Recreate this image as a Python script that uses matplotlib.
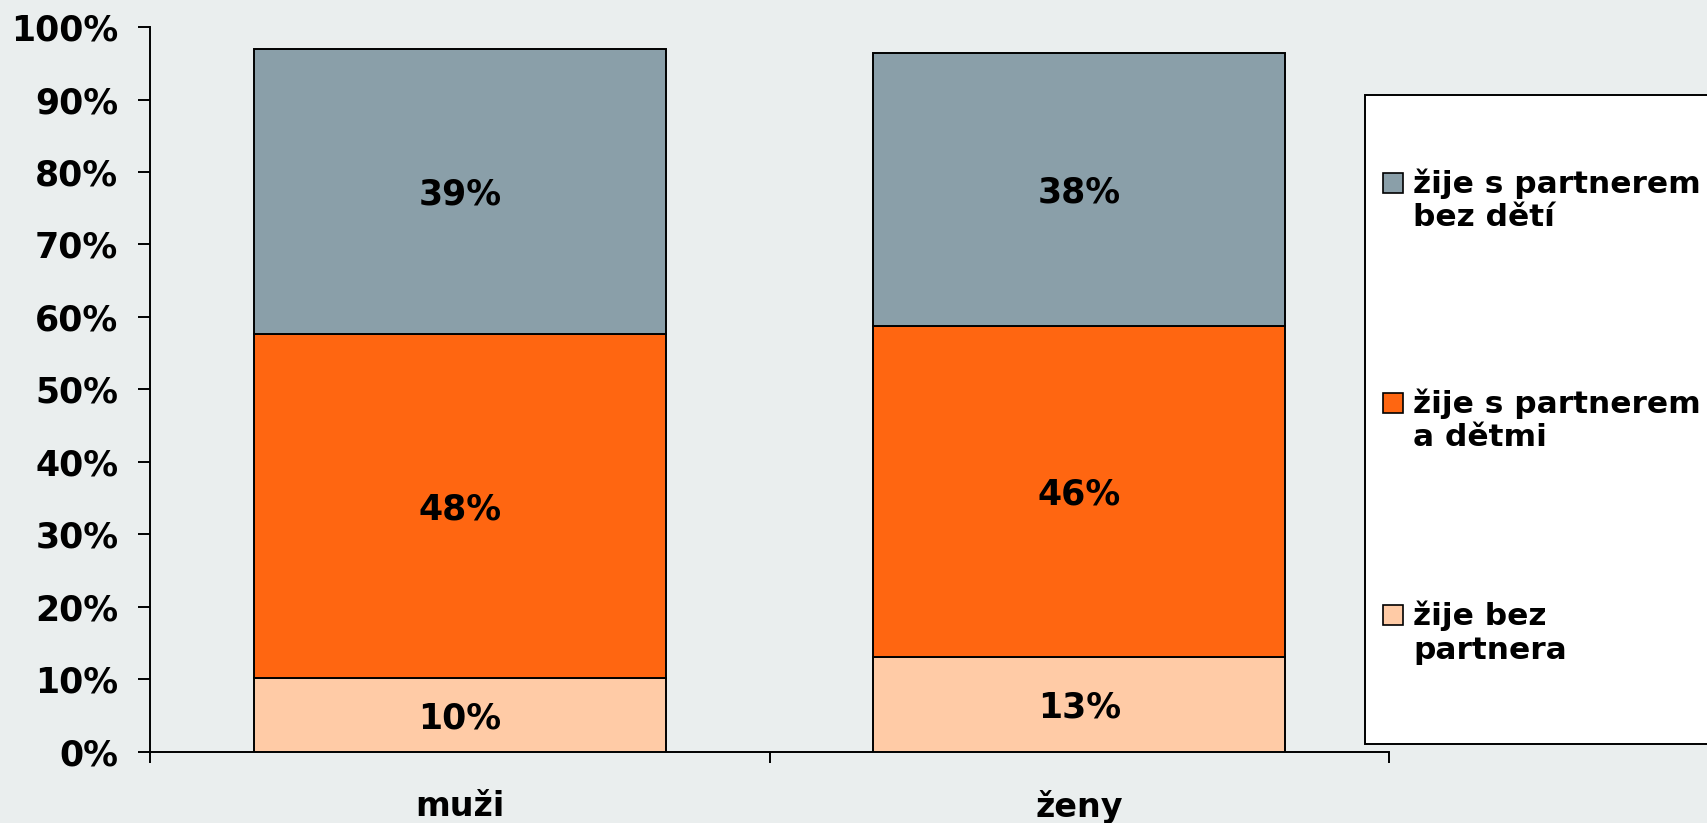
import matplotlib
matplotlib.use("Agg")
import matplotlib.pyplot as plt
from matplotlib.patches import Rectangle
import numpy as np

categories = ["muži", "ženy"]
series_names = ["žije bez\npartnera", "žije s partnerem\na dětmi", "žije s partnerem\nbez dětí"]
bez_partnera = [10.1, 13.1]
s_partnerem_detmi = [47.6, 45.7]
s_partnerem_bez_deti = [39.3, 37.6]
series_values = [bez_partnera, s_partnerem_detmi, s_partnerem_bez_deti]
colors = ["#FFCBA6", "#FF6611", "#8A9FA9"]
y_ticks = [0, 10, 20, 30, 40, 50, 60, 70, 80, 90, 100]

BG = "#EAEEEE"
plt.rcParams['font.family'] = ['DejaVu Sans']
plt.rcParams['font.weight'] = 'bold'

fig = plt.figure(figsize=(17.08, 8.23), dpi=100, facecolor=BG)
ax = fig.add_axes([0.088, 0.0868, 0.7253, 0.8802], facecolor=BG)

x = np.arange(len(categories))
bottom = np.zeros(len(categories))
for vals, col in zip(series_values, colors):
    ax.bar(x, vals, width=0.665, bottom=bottom, color=col,
           edgecolor="black", linewidth=1.4, zorder=3)
    for xi, v, b0 in zip(x, vals, bottom):
        ax.text(xi, b0 + v / 2, f"{round(v):d}%", ha="center", va="center_baseline",
                fontsize=25, fontweight="bold", color="black", zorder=4)
    bottom = bottom + np.array(vals)

ax.set_xlim(-0.5, len(categories) - 0.5)
ax.set_ylim(0, 100)
ax.set_yticks(y_ticks)
ax.set_yticklabels([f"{t}%" for t in y_ticks], fontsize=25, fontweight="bold")
ax.tick_params(axis="y", direction="out", length=9, width=1.4, pad=14, colors="black")

ax.set_xticks(np.arange(len(categories) + 1) - 0.5)
ax.set_xticklabels([])
ax.tick_params(axis="x", which="major", direction="out", length=8, width=1.4)
ax.set_xticks(x, minor=True)
ax.set_xticklabels(categories, minor=True, fontsize=24, fontweight="bold")
ax.tick_params(axis="x", which="minor", length=0, pad=28)

for s in ["top", "right"]:
    ax.spines[s].set_visible(False)
for s in ["left", "bottom"]:
    ax.spines[s].set_linewidth(1.4)
    ax.spines[s].set_color("black")

# legend box
fig.patches.append(Rectangle((1365 / 1708, 1 - 744 / 823), 0.25, (744 - 95) / 823,
                             transform=fig.transFigure, facecolor="white",
                             edgecolor="black", linewidth=1.4, zorder=5))
entry_y = [565, 370, 168]  # first-line centres (shown-space) in series order
for name, col, yy in zip(series_names, colors, entry_y):
    yf = yy * 1.0893
    sq = 20
    fig.patches.append(Rectangle((1383 / 1708, 1 - (yf + sq / 2) / 823), sq / 1708, sq / 823,
                                 transform=fig.transFigure, facecolor=col,
                                 edgecolor="black", linewidth=1.2, zorder=6))
    fig.text(1413 / 1708, 1 - (yf - 15) / 823, name, ha="left", va="top",
             fontsize=22.5, fontweight="bold", linespacing=1.2, zorder=7)

fig.savefig("out.png", dpi=100, facecolor=BG)
